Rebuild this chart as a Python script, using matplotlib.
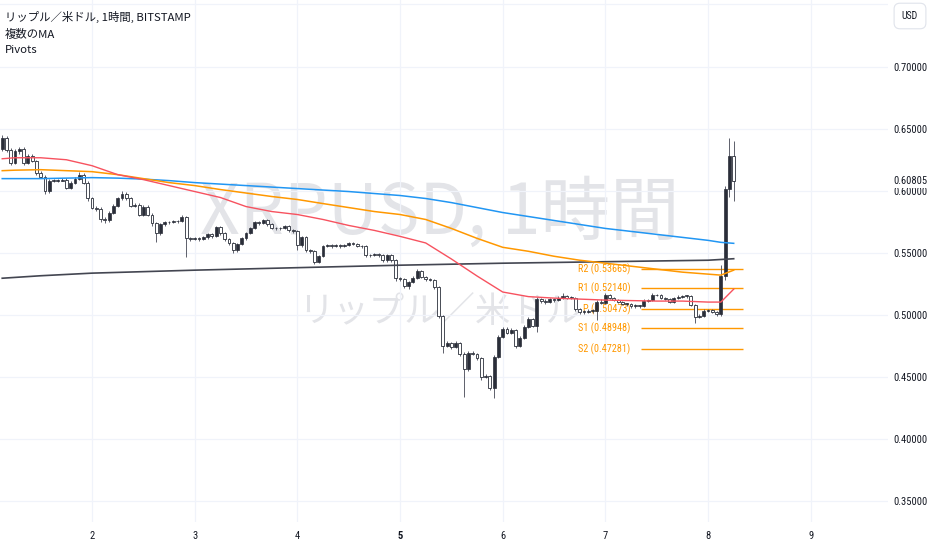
import matplotlib
matplotlib.use("Agg")
import matplotlib.pyplot as plt
import numpy as np
from matplotlib import font_manager

# ---- data -------------------------------------------------------------
# hourly XRP/USD candles, first bar at day 1 03:00, last at day 8 06:00
first_time = 1.125          # in days of the month
bar_interval = 1 / 24       # one hour
first_open = 0.6338

closes = np.array([
    0.6426, 0.6330, 0.6226, 0.6322, 0.6338, 0.6226, 0.6282, 0.6242, 0.6146, 0.6114, 0.6002, 0.6082,
    0.6082, 0.6082, 0.6090, 0.6026, 0.6066, 0.6098, 0.6130, 0.6066, 0.5938, 0.5865, 0.5857, 0.5769,
    0.5761, 0.5825, 0.5881, 0.5938, 0.5978, 0.5938, 0.5881, 0.5889, 0.5809, 0.5873, 0.5809, 0.5737,
    0.5657, 0.5729, 0.5745, 0.5745, 0.5753, 0.5753, 0.5793, 0.5617, 0.5609, 0.5617, 0.5609, 0.5625,
    0.5649, 0.5633, 0.5705, 0.5657, 0.5609, 0.5577, 0.5521, 0.5569, 0.5617, 0.5657, 0.5697, 0.5745,
    0.5737, 0.5761, 0.5729, 0.5697, 0.5697, 0.5697, 0.5713, 0.5681, 0.5673, 0.5561, 0.5625, 0.5521,
    0.5513, 0.5425, 0.5473, 0.5553, 0.5561, 0.5553, 0.5561, 0.5553, 0.5561, 0.5577, 0.5569, 0.5553,
    0.5553, 0.5481, 0.5481, 0.5489, 0.5481, 0.5441, 0.5481, 0.5441, 0.5296, 0.5288, 0.5232, 0.5264,
    0.5296, 0.5353, 0.5305, 0.5288, 0.5280, 0.5224, 0.4992, 0.4752, 0.4776, 0.4744, 0.4776, 0.4688,
    0.4567, 0.4696, 0.4688, 0.4655, 0.4503, 0.4511, 0.4415, 0.4663, 0.4824, 0.4888, 0.4856, 0.4880,
    0.4752, 0.4816, 0.4904, 0.4968, 0.4912, 0.5128, 0.5112, 0.5104, 0.5128, 0.5120, 0.5136, 0.5152,
    0.5136, 0.5136, 0.5048, 0.5024, 0.5024, 0.5032, 0.5032, 0.5104, 0.5096, 0.5160, 0.5136, 0.5120,
    0.5104, 0.5088, 0.5088, 0.5072, 0.5072, 0.5072, 0.5112, 0.5120, 0.5160, 0.5160, 0.5136, 0.5128,
    0.5104, 0.5136, 0.5144, 0.5152, 0.5152, 0.5080, 0.4984, 0.4992, 0.5032, 0.5040, 0.5024, 0.5008,
    0.5313, 0.6018, 0.6282, 0.60805,
])
highs = np.array([
    0.6450, 0.6440, 0.6345, 0.6340, 0.6350, 0.6352, 0.6300, 0.6300, 0.6250, 0.6160, 0.6125, 0.6095,
    0.6095, 0.6092, 0.6100, 0.6102, 0.6080, 0.6110, 0.6150, 0.6140, 0.6080, 0.5950, 0.5880, 0.5870,
    0.5785, 0.5835, 0.5895, 0.5950, 0.5995, 0.5990, 0.5950, 0.5900, 0.5900, 0.5885, 0.5885, 0.5820,
    0.5750, 0.5740, 0.5755, 0.5758, 0.5765, 0.5765, 0.5805, 0.5800, 0.5630, 0.5630, 0.5628, 0.5638,
    0.5660, 0.5660, 0.5720, 0.5715, 0.5668, 0.5620, 0.5590, 0.5580, 0.5628, 0.5668, 0.5710, 0.5758,
    0.5760, 0.5775, 0.5770, 0.5738, 0.5708, 0.5708, 0.5725, 0.5722, 0.5690, 0.5685, 0.5640, 0.5635,
    0.5530, 0.5520, 0.5485, 0.5565, 0.5572, 0.5570, 0.5572, 0.5568, 0.5575, 0.5590, 0.5585, 0.5578,
    0.5562, 0.5560, 0.5492, 0.5500, 0.5498, 0.5490, 0.5492, 0.5490, 0.5450, 0.5305, 0.5300, 0.5275,
    0.5310, 0.5370, 0.5360, 0.5315, 0.5298, 0.5290, 0.5232, 0.5000, 0.4790, 0.4785, 0.4790, 0.4785,
    0.4700, 0.4710, 0.4712, 0.4698, 0.4665, 0.4525, 0.4520, 0.4675, 0.4840, 0.4905, 0.4900, 0.4895,
    0.4890, 0.4830, 0.4918, 0.4985, 0.4975, 0.5142, 0.5140, 0.5125, 0.5140, 0.5135, 0.5150, 0.5175,
    0.5165, 0.5150, 0.5145, 0.5060, 0.5038, 0.5045, 0.5045, 0.5118, 0.5125, 0.5175, 0.5170, 0.5148,
    0.5130, 0.5115, 0.5100, 0.5098, 0.5085, 0.5082, 0.5125, 0.5132, 0.5178, 0.5172, 0.5168, 0.5145,
    0.5138, 0.5148, 0.5158, 0.5165, 0.5162, 0.5160, 0.5090, 0.5005, 0.5045, 0.5052, 0.5050, 0.5030,
    0.5401, 0.6040, 0.6426, 0.6400,
])
lows = np.array([
    0.6320, 0.6310, 0.6205, 0.6215, 0.6300, 0.6210, 0.6215, 0.6230, 0.6130, 0.6100, 0.5975, 0.5985,
    0.6070, 0.6072, 0.6075, 0.6015, 0.6015, 0.6055, 0.6090, 0.6055, 0.5915, 0.5850, 0.5840, 0.5750,
    0.5740, 0.5750, 0.5815, 0.5870, 0.5925, 0.5925, 0.5870, 0.5870, 0.5795, 0.5800, 0.5795, 0.5720,
    0.5590, 0.5645, 0.5720, 0.5735, 0.5740, 0.5742, 0.5745, 0.5465, 0.5595, 0.5600, 0.5598, 0.5600,
    0.5615, 0.5620, 0.5625, 0.5645, 0.5595, 0.5560, 0.5500, 0.5505, 0.5560, 0.5605, 0.5650, 0.5690,
    0.5725, 0.5730, 0.5720, 0.5690, 0.5688, 0.5685, 0.5690, 0.5670, 0.5660, 0.5520, 0.5550, 0.5505,
    0.5500, 0.5410, 0.5415, 0.5465, 0.5545, 0.5542, 0.5545, 0.5542, 0.5548, 0.5552, 0.5560, 0.5545,
    0.5540, 0.5470, 0.5470, 0.5475, 0.5470, 0.5430, 0.5430, 0.5430, 0.5270, 0.5275, 0.5215, 0.5210,
    0.5255, 0.5290, 0.5295, 0.5275, 0.5270, 0.5210, 0.4975, 0.4690, 0.4740, 0.4730, 0.4735, 0.4670,
    0.4343, 0.4550, 0.4675, 0.4640, 0.4480, 0.4495, 0.4395, 0.4335, 0.4650, 0.4815, 0.4845, 0.4845,
    0.4735, 0.4740, 0.4805, 0.4895, 0.4900, 0.4860, 0.5100, 0.5090, 0.5095, 0.5108, 0.5110, 0.5128,
    0.5125, 0.5125, 0.5035, 0.5012, 0.5010, 0.5015, 0.5020, 0.4960, 0.5085, 0.5090, 0.5125, 0.5110,
    0.5095, 0.5078, 0.5075, 0.5060, 0.5060, 0.5058, 0.5065, 0.5105, 0.5115, 0.5150, 0.5125, 0.5118,
    0.5095, 0.5098, 0.5130, 0.5140, 0.5140, 0.5070, 0.4936, 0.4975, 0.4985, 0.5025, 0.5015, 0.4995,
    0.4990, 0.5280, 0.5950, 0.5920,
])

# moving averages, read every 6 hours
ma_times = [1.125, 1.25, 1.5, 1.75, 2.0, 2.25, 2.5, 2.75, 3.0, 3.25, 3.5, 3.75, 4.0, 4.25, 4.5,
            4.75, 5.0, 5.25, 5.5, 5.75, 6.0, 6.25, 6.5, 6.75, 7.0, 7.25, 7.5, 7.75, 8.0, 8.125, 8.25]
ma_red = [0.6258, 0.6266, 0.6266, 0.6250, 0.6202, 0.6130, 0.6090, 0.6042, 0.5994, 0.5946, 0.5873,
          0.5833, 0.5809, 0.5769, 0.5721, 0.5681, 0.5633, 0.5580, 0.5451, 0.5314, 0.5185, 0.5148,
          0.5136, 0.5128, 0.5120, 0.5116, 0.5112, 0.5112, 0.5104, 0.5104, 0.5208]
ma_orange = [0.6162, 0.6166, 0.6170, 0.6162, 0.6154, 0.6130, 0.6098, 0.6066, 0.6042, 0.6010, 0.5982,
             0.5954, 0.5930, 0.5897, 0.5865, 0.5833, 0.5809, 0.5769, 0.5697, 0.5617, 0.5545, 0.5513,
             0.5473, 0.5441, 0.5417, 0.5393, 0.5369, 0.5345, 0.5329, 0.5321, 0.5361]
ma_blue = [0.6098, 0.6098, 0.6098, 0.6102, 0.6106, 0.6102, 0.6094, 0.6082, 0.6066, 0.6054, 0.6042,
           0.6030, 0.6018, 0.6006, 0.5994, 0.5978, 0.5962, 0.5938, 0.5905, 0.5865, 0.5825, 0.5793,
           0.5761, 0.5729, 0.5697, 0.5673, 0.5649, 0.5625, 0.5601, 0.5585, 0.5577]
long_ma_times = [1.125, 1.5, 2.0, 3.0, 4.0, 5.0, 6.0, 7.0, 8.0, 8.25]
long_ma = [0.5296, 0.5316, 0.5337, 0.5361, 0.5381, 0.5401, 0.5417, 0.5429, 0.5441, 0.5453]

# daily pivots
pivot_names = ["R2", "R1", "P", "S1", "S2"]
pivot_values = [0.53665, 0.52140, 0.50473, 0.48948, 0.47281]
pivot_start, pivot_end = 7.35, 8.34

day_ticks = [2, 3, 4, 5, 6, 7, 8, 9]
price_ticks = [0.35, 0.40, 0.45, 0.50, 0.55, 0.60, 0.65, 0.70, 0.75]
last_price = closes[-1]

# ---- style ------------------------------------------------------------
CJK = ["Noto Sans CJK JP", "DejaVu Sans"]
TEXT = "#131722"
DARK = "#2a2e39"
WICK = "#5d606b"
GRID = "#f0f3fa"
RED, ORANGE, BLUE, BLACK = "#f7525f", "#ff9800", "#2196f3", "#434651"


def _pick_narrow():
    names = {f.name for f in font_manager.fontManager.ttflist}
    for name in ("Liberation Sans Narrow", "Roboto Condensed", "Open Sans Condensed"):
        if name in names:
            return name, 1.0
    return "Roboto", 0.84


NARROW, SHRINK = _pick_narrow()
plt.rcParams["font.family"] = [NARROW, "Noto Sans CJK JP", "DejaVu Sans"]

fig = plt.figure(figsize=(9.32, 5.5), dpi=100)
ax = fig.add_axes([0, 28 / 550, 888 / 932, 522 / 550])
ax.set_xlim(1.1033, 9.753)
ax.set_ylim(0.33333, 0.75362)

# watermark
ax.text(0.4955, 0.59, "XRPUSD, 1時間", transform=ax.transAxes, ha="center",
        va="center", fontsize=50, color="#e3e4e8", family=CJK, zorder=0)
ax.text(0.495, 0.40, "リップル／米ドル", transform=ax.transAxes, ha="center",
        va="center", fontsize=25.5, color="#e3e4e8", family=CJK, zorder=0)

# pivots (drawn under the candles)
for name, val in zip(pivot_names, pivot_values):
    ax.hlines(val, pivot_start, pivot_end, color=ORANGE, lw=1.0, zorder=2)
    ax.text(pivot_start - 0.105, val, f"{name} ({val:.5f})", ha="right", va="center",
            color=ORANGE, fontsize=7.4 * SHRINK, zorder=2)

# candles
times = first_time + np.arange(len(closes)) * bar_interval
opens = np.r_[first_open, closes[:-1]]
up = closes >= opens
body_lo = np.minimum(opens, closes)
body_h = np.maximum(np.abs(closes - opens), 0.0005)
ax.vlines(times, lows, highs, color=WICK, lw=0.7, zorder=3)
ax.bar(times[up], body_h[up], bottom=body_lo[up], width=0.028, color=DARK,
       edgecolor=DARK, lw=0.5, zorder=4)
ax.bar(times[~up], body_h[~up], bottom=body_lo[~up], width=0.028, color="white",
       edgecolor=DARK, lw=0.6, zorder=4)

# moving averages
ax.plot(long_ma_times, long_ma, color=BLACK, lw=1.2, zorder=5)
ax.plot(ma_times, ma_blue, color=BLUE, lw=1.1, zorder=5)
ax.plot(ma_times, ma_orange, color=ORANGE, lw=1.1, zorder=5)
ax.plot(ma_times, ma_red, color=RED, lw=1.0, zorder=5)

# axes
for s in ax.spines.values():
    s.set_visible(False)
ax.set_xticks(day_ticks)
ax.set_xticklabels([str(d) for d in day_ticks])
ax.set_yticks(price_ticks)
# the top label sits under the currency box, so it is left blank
ax.set_yticklabels([f"{p:.5f}" if p < 0.74 else "" for p in price_ticks])
ax.yaxis.tick_right()
ax.tick_params(length=0, colors=TEXT, labelsize=7.6 * SHRINK)
ax.tick_params(axis="x", pad=6.5)
ax.tick_params(axis="y", pad=3.6)
ax.get_xticklabels()[day_ticks.index(5)].set_fontweight("bold")
ax.grid(True, color=GRID, lw=0.9)
ax.set_axisbelow(True)

ax.text(1.0 + 5 / 888, last_price, f"{last_price:.5f}", transform=ax.get_yaxis_transform(),
        ha="left", va="center", color=TEXT, fontsize=7.6 * SHRINK, clip_on=False, zorder=10,
        bbox=dict(boxstyle="square,pad=0.25", fc="white", ec="none"))

# legend header
fig.text(5 / 932, 1 - 17 / 550, "リップル／米ドル, 1時間, BITSTAMP", ha="left", va="center",
         fontsize=8.2, color=TEXT, family=CJK)
fig.text(5 / 932, 1 - 34 / 550, "複数のMA", ha="left", va="center",
         fontsize=8.2, color=TEXT, family=CJK)
fig.text(5 / 932, 1 - 50 / 550, "Pivots", ha="left", va="center",
         fontsize=8.2, color=TEXT, family=CJK)
fig.text(910 / 932, 1 - 16 / 550, "USD", ha="center", va="center", fontsize=7 * SHRINK,
         color=TEXT, zorder=20,
         bbox=dict(boxstyle="round,pad=0.8,rounding_size=0.6", fc="white", ec="#e0e3eb", lw=0.8))

fig.savefig("out.png", dpi=100)
